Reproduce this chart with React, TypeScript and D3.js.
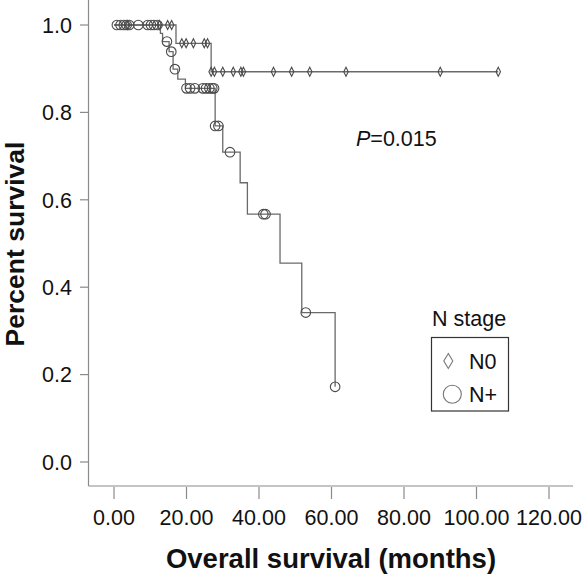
import React from "react";
import * as d3 from "d3";

// ---- data ----
const xTicks = [0, 20, 40, 60, 80, 100, 120];
const yTicks = [0, 0.2, 0.4, 0.6, 0.8, 1.0];

// N0 group (diamonds)
const n0StepTimes = [17.1, 26.8];
const n0StepSurv = [0.958, 0.893];
const n0EndTime = 106;
const n0Censored = [3.8, 12.5, 14.8, 15.9, 18.7, 19.9, 21.9, 24.9, 25.8, 26.8, 27.7, 30.0, 32.9, 35.0, 35.7, 44.0, 49.0, 54.0, 64.0, 90.0, 106.0];

// N+ group (circles)
const npStepTimes = [12.8, 13.4, 15.2, 16.3, 17.6, 19.7, 27.9, 30.0, 34.8, 36.8, 45.8, 51.8, 61.0];
const npStepSurv = [0.981, 0.962, 0.939, 0.899, 0.876, 0.855, 0.769, 0.709, 0.639, 0.567, 0.455, 0.342, 0.172];
const npEndTime = 61.0;
const npCensored = [0.8, 1.8, 2.7, 3.5, 4.2, 6.7, 9.3, 10.2, 11.0, 12.0, 14.6, 15.8, 16.8, 20.0, 21.0, 22.3, 24.5, 25.4, 26.3, 27.1, 27.6, 27.9, 28.8, 32.0, 41.2, 41.8, 52.9, 61.0];

const legendTitle = "N stage";
const legendLabels = ["N0", "N+"];
const pText = "=0.015";

const FONT = "'Liberation Sans', Arial, Helvetica, sans-serif";
const AXIS_COLOR = "#8a8a8a";
const LINE_COLOR = "#6a6a6a";
const MARK_COLOR = "#4a4a4a";

function survAt(times: number[], surv: number[], t: number) {
  let s = 1;
  for (let i = 0; i < times.length; i++) if (times[i] <= t) s = surv[i];
  return s;
}

function stepPoints(times: number[], surv: number[], end: number): [number, number][] {
  const pts: [number, number][] = [[0, 1]];
  times.forEach((t, i) => pts.push([t, surv[i]]));
  if (end > times[times.length - 1]) pts.push([end, surv[surv.length - 1]]);
  return pts;
}

export default function App() {
  const x = d3.scaleLinear().domain([0, 120]).range([114, 549]);
  const y = d3.scaleLinear().domain([0, 1]).range([462, 25]);
  const line = d3
    .line<[number, number]>()
    .x((d) => x(d[0]))
    .y((d) => y(d[1]))
    .curve(d3.curveStepAfter);

  const n0Path = line(stepPoints(n0StepTimes, n0StepSurv, n0EndTime)) || "";
  const npPath = line(stepPoints(npStepTimes, npStepSurv, npEndTime)) || "";

  const diamond = (cx: number, cy: number, w: number, h: number) =>
    `M${cx},${cy - h / 2}L${cx + w / 2},${cy}L${cx},${cy + h / 2}L${cx - w / 2},${cy}Z`;

  const axisY = 486;
  const axisX = 88.5;

  return (
    <svg
      width={582}
      height={575}
      style={{ position: "absolute", left: 0, top: 0, background: "#fff" }}
      fontFamily={FONT}
    >
      <rect x={0} y={0} width={582} height={575} fill="#fff" />
      {/* axes */}
      <line x1={axisX} y1={0} x2={axisX} y2={axisY} stroke={AXIS_COLOR} strokeWidth={1.2} />
      <line x1={axisX} y1={axisY} x2={573} y2={axisY} stroke={AXIS_COLOR} strokeWidth={1.2} />
      {yTicks.map((t) => (
        <g key={"y" + t}>
          <line x1={80} x2={axisX} y1={y(t)} y2={y(t)} stroke={AXIS_COLOR} strokeWidth={1.2} />
          <text x={72} y={y(t)} dy="0.36em" textAnchor="end" fontSize={21.5} fill="#111">
            {t.toFixed(1)}
          </text>
        </g>
      ))}
      {xTicks.map((t) => (
        <g key={"x" + t}>
          <line x1={x(t)} x2={x(t)} y1={axisY + 1} y2={499} stroke={AXIS_COLOR} strokeWidth={1.2} />
          <text x={x(t)} y={525} textAnchor="middle" fontSize={21.5} fill="#111">
            {t.toFixed(2)}
          </text>
        </g>
      ))}
      <text x={331} y={568} textAnchor="middle" fontSize={27.5} fontWeight="bold" fill="#111">
        Overall survival (months)
      </text>
      <text
        transform="translate(24,244) rotate(-90)"
        textAnchor="middle"
        fontSize={26.5}
        fontWeight="bold"
        fill="#111"
      >
        Percent survival
      </text>

      {/* curves */}
      <path d={n0Path} fill="none" stroke={LINE_COLOR} strokeWidth={1.3} />
      <path d={npPath} fill="none" stroke={LINE_COLOR} strokeWidth={1.3} />

      {n0Censored.map((t, i) => (
        <path
          key={"d" + i}
          d={diamond(x(t), y(survAt(n0StepTimes, n0StepSurv, t)), 4.5, 9)}
          fill="none"
          stroke={MARK_COLOR}
          strokeWidth={1.1}
        />
      ))}
      {npCensored.map((t, i) => (
        <circle
          key={"c" + i}
          cx={x(t)}
          cy={y(survAt(npStepTimes, npStepSurv, t))}
          r={4.8}
          fill="none"
          stroke={MARK_COLOR}
          strokeWidth={1.1}
        />
      ))}

      {/* P value */}
      <text x={356} y={146} fontSize={21.5} fill="#111">
        <tspan fontStyle="italic">P</tspan>
        {pText}
      </text>

      {/* legend */}
      <text x={432} y={326} fontSize={21.5} fill="#111">
        {legendTitle}
      </text>
      <rect x={431.5} y={337.5} width={77} height={73.5} fill="none" stroke="#333" strokeWidth={1.2} />
      <path d={diamond(448.3, 361, 9, 15)} fill="none" stroke="#777" strokeWidth={1.1} />
      <text x={469} y={368.5} fontSize={21.5} fill="#111">
        {legendLabels[0]}
      </text>
      <circle cx={452.3} cy={394.3} r={9} fill="none" stroke="#777" strokeWidth={1.1} />
      <text x={469} y={402} fontSize={21.5} fill="#111">
        {legendLabels[1]}
      </text>
    </svg>
  );
}
